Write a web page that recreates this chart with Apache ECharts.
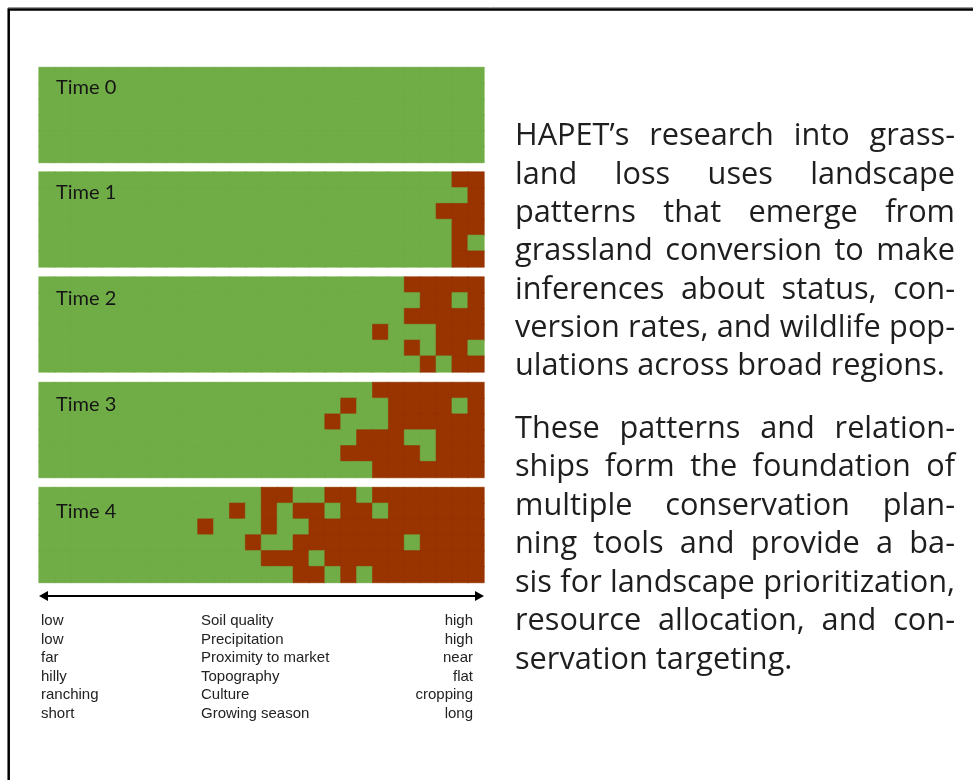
<!DOCTYPE html>
<html><head><meta charset="utf-8">
<script src="https://cdn.jsdelivr.net/npm/echarts@6/dist/echarts.min.js"></script>
<style>html,body{margin:0;padding:0;background:#fff}#chart{width:973px;height:780px}</style>
</head><body><div id="chart"></div>
<script>
// ---------- DATA ----------
const columnIds = Array.from({length: 28}, (_, i) => i);   // 28 landscape cells per row
const rowIds = [0, 1, 2, 3, 4, 5];                          // 6 rows per panel
const panelLabels = ['Time 0', 'Time 1', 'Time 2', 'Time 3', 'Time 4'];

// converted (cropland) cells: column indices per row, top row first
const convertedTime0 = [[], [], [], [], [], []];
const convertedTime1 = [[26,27], [27], [25,26,27], [26,27], [26], [26,27]];
const convertedTime2 = [[23,24,25,26,27], [24,25,27], [23,24,25,26,27], [21,25,26,27], [23,25,26], [24,26,27]];
const convertedTime3 = [[21,22,23,24,25,26,27], [19,22,23,24,25,27], [18,22,23,24,25,26,27],
                        [20,21,22,25,26,27], [19,20,21,22,23,25,26,27], [21,22,23,24,25,26,27]];
const convertedTime4 = [[14,15,18,19,21,22,23,24,25,26,27], [12,14,16,17,19,20,22,23,24,25,26,27],
                        [10,14,17,18,19,20,21,22,23,24,25,26,27], [13,16,17,18,19,20,21,22,24,25,26,27],
                        [14,15,16,18,19,20,21,22,23,24,25,26,27], [16,17,19,21,22,23,24,25,26,27]];
const convertedByTime = [convertedTime0, convertedTime1, convertedTime2, convertedTime3, convertedTime4];

const lowEnds  = ['low', 'low', 'far', 'hilly', 'ranching', 'short'];
const factors  = ['Soil quality', 'Precipitation', 'Proximity to market', 'Topography', 'Culture', 'Growing season'];
const highEnds = ['high', 'high', 'near', 'flat', 'cropping', 'long'];

const paragraph1 = [
  'HAPET\u2019s research into grass-',
  'land loss uses landscape',
  'patterns that emerge from',
  'grassland conversion to make',
  'inferences about status, con-',
  'version rates, and wildlife pop-',
  'ulations across broad regions.'
];
const paragraph2 = [
  'These patterns and relation-',
  'ships form the foundation of',
  'multiple conservation plan-',
  'ning tools and provide a ba-',
  'sis for landscape prioritization,',
  'resource allocation, and con-',
  'servation targeting.'
];

// ---------- STYLE / LAYOUT ----------
const GREEN = '#70AD47', RED = '#993300';
const panelLeft = 39, panelWidth = 445, panelHeight = 95;
const panelTops = [67.5, 172, 277, 382.5, 487.5];
const labelOffsets = [20, 21, 22, 22.5, 24];

const chart = echarts.init(document.getElementById('chart'), null, {renderer: 'canvas'});

const grids = [], xAxes = [], yAxes = [], series = [], graphics = [];
panelTops.forEach((top, p) => {
  grids.push({left: panelLeft, top: top, width: panelWidth, height: panelHeight,
              show: true, backgroundColor: GREEN, borderWidth: 0, containLabel: false});
  xAxes.push({type: 'category', gridIndex: p, data: columnIds, show: false, boundaryGap: true});
  yAxes.push({type: 'category', gridIndex: p, data: rowIds, show: false, inverse: true, boundaryGap: true});
  const conv = convertedByTime[p];
  const data = [];
  rowIds.forEach(r => {
    columnIds.forEach(c => {
      const v = conv[r].indexOf(c) >= 0 ? 1 : 0;
      const col = v ? RED : GREEN;
      data.push({value: [c, r, v], itemStyle: {color: col, borderColor: col, borderWidth: 0.6}});
    });
  });
  series.push({type: 'heatmap', xAxisIndex: p, yAxisIndex: p, data: data, z: 2,
               emphasis: {disabled: true}, silent: true, animation: false});
  graphics.push({type: 'text', x: 56, y: top + labelOffsets[p], z: 100,
    style: {text: panelLabels[p], font: '400 20px Lato', fill: '#151515',
            textAlign: 'left', textVerticalAlign: 'middle', align: 'left', verticalAlign: 'middle'}});
});

// frame
graphics.push({type: 'line', z: 100, shape: {x1: 8, y1: 7.5, x2: 973, y2: 7.5}, style: {stroke: '#9a9a9a', lineWidth: 1}});
graphics.push({type: 'rect', z: 100, shape: {x: 8.7, y: 9.5, width: 1200, height: 1200},
               style: {fill: 'none', stroke: '#000', lineWidth: 2.5}});

// double arrow
const arrowY = 596;
graphics.push({type: 'line', z: 100, shape: {x1: 45, y1: arrowY, x2: 478, y2: arrowY}, style: {stroke: '#000', lineWidth: 2}});
graphics.push({type: 'polygon', z: 100, shape: {points: [[39, arrowY], [48, arrowY - 5], [48, arrowY + 5]]}, style: {fill: '#000'}});
graphics.push({type: 'polygon', z: 100, shape: {points: [[484, arrowY], [475, arrowY - 5], [475, arrowY + 5]]}, style: {fill: '#000'}});

// factor labels
const labelFont = '400 15px "Liberation Sans", Arial, sans-serif';
factors.forEach((f, i) => {
  const y = 621 + i * 18.5;
  const base = {textVerticalAlign: 'middle', verticalAlign: 'middle', font: labelFont, fill: '#222'};
  graphics.push({type: 'text', z: 100, x: 41, y: y, style: Object.assign({text: lowEnds[i], textAlign: 'left', align: 'left'}, base)});
  graphics.push({type: 'text', z: 100, x: 201, y: y, style: Object.assign({text: f, textAlign: 'left', align: 'left'}, base)});
  graphics.push({type: 'text', z: 100, x: 473, y: y, style: Object.assign({text: highEnds[i], textAlign: 'right', align: 'right'}, base)});
});

// justified paragraphs
const textLeft = 515, textRight = 955, textW = textRight - textLeft;
const meas = document.createElement('canvas').getContext('2d');
let fontSize = 31;
const fontOf = s => '400 ' + s + 'px "Open Sans"';
meas.font = fontOf(fontSize);
let maxW = 0;
[paragraph1, paragraph2].forEach(par => par.forEach(l => { maxW = Math.max(maxW, meas.measureText(l).width); }));
if (maxW > textW) fontSize = Math.floor(fontSize * textW / maxW * 10) / 10;
meas.font = fontOf(fontSize);

function addParagraph(lines, y0, step) {
  lines.forEach((line, li) => {
    const y = y0 + li * step;
    const words = line.split(' ');
    const widths = words.map(w => meas.measureText(w).width);
    const sum = widths.reduce((a, b) => a + b, 0);
    const last = li === lines.length - 1;
    const gap = (last || words.length < 2) ? meas.measureText(' ').width : (textW - sum) / (words.length - 1);
    let x = textLeft;
    words.forEach((w, wi) => {
      graphics.push({type: 'text', z: 100, x: x, y: y,
        style: {text: w, font: fontOf(fontSize), fill: '#1e1e1e',
                textAlign: 'left', align: 'left', textVerticalAlign: 'middle', verticalAlign: 'middle'}});
      x += widths[wi] + gap;
    });
  });
}
addParagraph(paragraph1, 136.5, 38.35);
addParagraph(paragraph2, 429, 38.5);

chart.setOption({
  animation: false,
  backgroundColor: '#fff',
  grid: grids, xAxis: xAxes, yAxis: yAxes, series: series,
  graphic: {elements: graphics}
});
</script></body></html>
